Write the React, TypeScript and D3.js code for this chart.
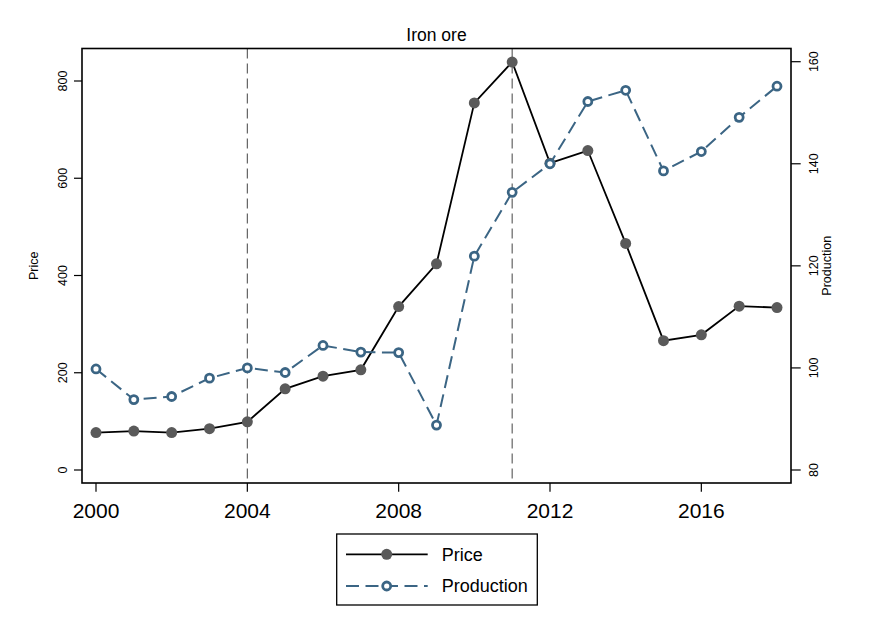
import React from "react";
import * as d3 from "d3";

const years = [2000, 2001, 2002, 2003, 2004, 2005, 2006, 2007, 2008, 2009, 2010, 2011, 2012, 2013, 2014, 2015, 2016, 2017, 2018];
const price = [77, 80, 77, 85, 99, 167, 193, 206, 336, 424, 755, 839, 631, 657, 466, 266, 278, 337, 334];
const production = [99.8, 93.8, 94.4, 98.0, 100.0, 99.1, 104.4, 103.1, 103.0, 88.8, 121.9, 134.4, 140.0, 152.2, 154.4, 138.6, 142.4, 149.1, 155.2];
const xTicks = [2000, 2004, 2008, 2012, 2016];
const priceTicks = [0, 200, 400, 600, 800];
const prodTicks = [80, 100, 120, 140, 160];
const refYears = [2004, 2011];
const title = "Iron ore";

const FONT = "'Liberation Sans', Arial, sans-serif";
const PROD_COLOR = "#3b6584";
const MARKER_GRAY = "#5a5a5a";

export default function App() {
  const W = 874, H = 636;
  const left = 82, right = 791, top = 48.5, bottom = 483;
  const x = d3.scaleLinear().domain([2000, 2018]).range([96, 777]);
  const yL = d3.scaleLinear().domain([0, 800]).range([470, 81]);
  const yR = d3.scaleLinear().domain([80, 160]).range([470, 61.7]);

  const priceLine = d3.line<number>().x((_, i) => x(years[i])).y((d) => yL(d))(price) || "";
  const prodLine = d3.line<number>().x((_, i) => x(years[i])).y((d) => yR(d))(production) || "";

  const midY = (top + bottom) / 2;
  const cx = (left + right) / 2;

  const legX = 336.7, legY = 534, legW = 200.6, legH = 71;

  return (
    <svg width={W} height={H} style={{ position: "absolute", left: 0, top: 0, background: "#fff" }} fontFamily={FONT}>
      <rect x={0} y={0} width={W} height={H} fill="#fff" />
      <text x={cx} y={41} textAnchor="middle" fontSize={17.5} fill="#000">{title}</text>

      {/* reference lines */}
      {refYears.map((yr) => (
        <line key={yr} x1={x(yr)} x2={x(yr)} y1={top} y2={bottom} stroke="#555" strokeWidth={1.1} strokeDasharray="10,5" />
      ))}

      {/* price series */}
      <path d={priceLine} fill="none" stroke="#000" strokeWidth={1.8} />
      {price.map((v, i) => (
        <circle key={"p" + i} cx={x(years[i])} cy={yL(v)} r={5.5} fill={MARKER_GRAY} />
      ))}

      {/* production series */}
      <path d={prodLine} fill="none" stroke={PROD_COLOR} strokeWidth={2} strokeDasharray="13,6.5" />
      {production.map((v, i) => (
        <circle key={"q" + i} cx={x(years[i])} cy={yR(v)} r={4} fill="#fff" stroke={PROD_COLOR} strokeWidth={2.8} />
      ))}

      {/* frame */}
      <rect x={left} y={top} width={right - left} height={bottom - top} fill="none" stroke="#000" strokeWidth={1.6} />

      {/* left axis */}
      {priceTicks.map((t) => (
        <g key={"l" + t}>
          <line x1={74} x2={left} y1={yL(t)} y2={yL(t)} stroke="#000" strokeWidth={1.2} />
          <text transform={`translate(${62.3},${yL(t)}) rotate(-90)`} textAnchor="middle" dy="0.35em" fontSize={12.5} fill="#000">{t}</text>
        </g>
      ))}
      <text transform={`translate(${33.3},${midY}) rotate(-90)`} textAnchor="middle" dy="0.35em" fontSize={12.5} fill="#000">Price</text>

      {/* right axis */}
      {prodTicks.map((t) => (
        <g key={"r" + t}>
          <line x1={right} x2={800.7} y1={yR(t)} y2={yR(t)} stroke="#000" strokeWidth={1.2} />
          <text transform={`translate(${813.3},${yR(t)}) rotate(-90)`} textAnchor="middle" dy="0.35em" fontSize={12.5} fill="#000">{t}</text>
        </g>
      ))}
      <text transform={`translate(${826.7},${midY}) rotate(-90)`} textAnchor="middle" dy="0.35em" fontSize={12.5} fill="#000">Production</text>

      {/* bottom axis */}
      {xTicks.map((t) => (
        <g key={"x" + t}>
          <line x1={x(t)} x2={x(t)} y1={bottom} y2={491.7} stroke="#000" strokeWidth={1.2} />
          <text x={x(t)} y={517.7} textAnchor="middle" fontSize={21} fill="#000">{t}</text>
        </g>
      ))}

      {/* legend */}
      <rect x={legX} y={legY} width={legW} height={legH} fill="#fff" stroke="#000" strokeWidth={1.3} />
      <line x1={346} x2={427.7} y1={554.3} y2={554.3} stroke="#000" strokeWidth={1.8} />
      <circle cx={386.7} cy={554.3} r={5.5} fill={MARKER_GRAY} />
      <text x={441.7} y={554.3} dy="0.35em" fontSize={18} fill="#000">Price</text>
      <line x1={346} x2={427.7} y1={586} y2={586} stroke={PROD_COLOR} strokeWidth={2} strokeDasharray="13,6.5" />
      <circle cx={386.7} cy={586} r={4} fill="#fff" stroke={PROD_COLOR} strokeWidth={2.8} />
      <text x={441.7} y={586} dy="0.35em" fontSize={18} fill="#000">Production</text>
    </svg>
  );
}
